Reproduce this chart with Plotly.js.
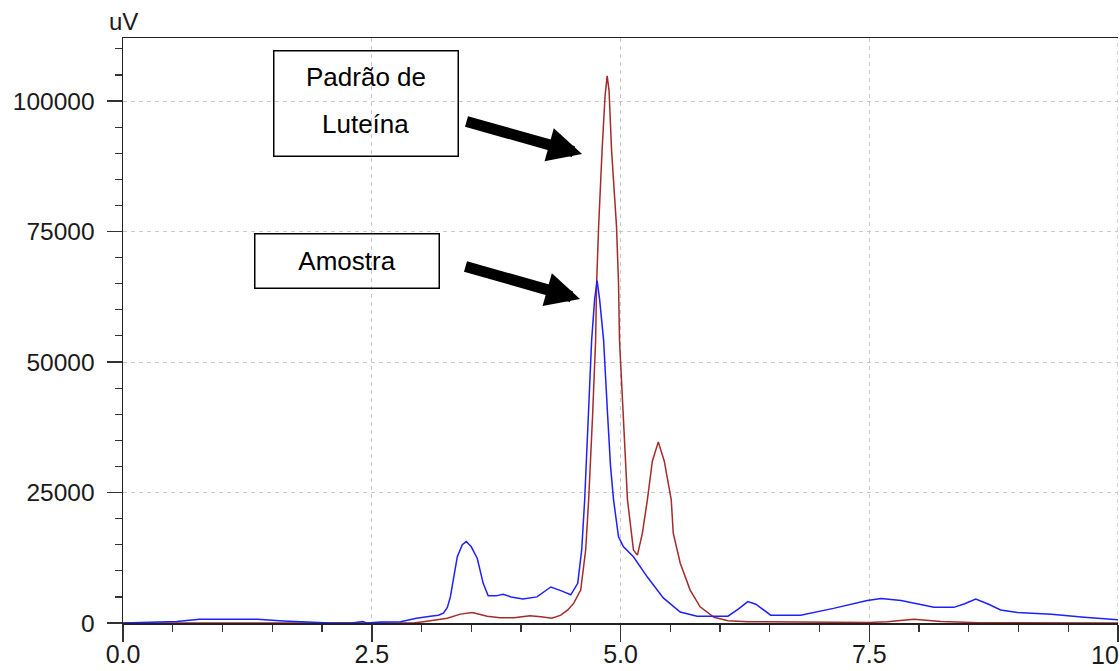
<!DOCTYPE html>
<html>
<head>
<meta charset="utf-8">
<script src="https://cdn.plot.ly/plotly-3.0.1.min.js"></script>
<style>html,body{margin:0;padding:0;background:#fff;}#chart{width:1120px;height:671px;}</style>
</head>
<body>
<div id="chart"></div>
<script>
// Retention time (min) and signal (uV)
const amostraTime = [0, 0.27, 0.54, 0.77, 1.35, 1.61, 2.08, 2.3, 2.41, 2.45, 2.59, 2.79, 2.95, 3.09, 3.17, 3.22, 3.26, 3.29, 3.33, 3.36, 3.41, 3.45, 3.50, 3.56, 3.62, 3.67, 3.75, 3.82, 3.90, 4.02, 4.16, 4.23, 4.30, 4.40, 4.50, 4.57, 4.61, 4.64, 4.68, 4.71, 4.74, 4.765, 4.79, 4.81, 4.83, 4.87, 4.90, 4.93, 4.98, 5.03, 5.13, 5.27, 5.43, 5.60, 5.77, 6.08, 6.18, 6.28, 6.36, 6.51, 6.81, 7.14, 7.48, 7.62, 7.82, 8.15, 8.35, 8.46, 8.57, 8.70, 8.82, 8.99, 9.33, 9.66, 10.0];
const amostraSignal = [0, 130, 300, 700, 700, 400, 0, 0, 300, 0, 200, 250, 900, 1300, 1500, 1900, 3000, 5000, 9500, 12700, 15000, 15600, 14600, 12400, 7600, 5200, 5200, 5500, 5000, 4600, 5000, 6000, 6900, 6200, 5400, 7600, 14000, 23600, 40000, 54200, 62000, 65600, 62000, 58000, 54200, 40000, 30000, 23600, 16500, 14600, 12700, 8800, 4800, 2100, 1300, 1300, 2600, 4100, 3600, 1500, 1500, 2800, 4300, 4700, 4300, 3000, 3000, 3700, 4600, 3600, 2500, 2000, 1700, 1100, 600];

const padraoTime = [0, 2.5, 2.92, 3.02, 3.15, 3.26, 3.39, 3.51, 3.66, 3.79, 3.93, 4.09, 4.20, 4.31, 4.40, 4.47, 4.53, 4.60, 4.65, 4.68, 4.72, 4.75, 4.76, 4.78, 4.815, 4.845, 4.866, 4.885, 4.91, 4.96, 4.98, 4.99, 5.02, 5.07, 5.13, 5.17, 5.22, 5.27, 5.32, 5.38, 5.44, 5.51, 5.53, 5.60, 5.70, 5.80, 5.94, 6.08, 6.28, 6.6, 7.0, 7.5, 7.68, 7.95, 8.22, 8.6, 10];
const padraoSignal = [0, 0, 0, 250, 600, 900, 1700, 2000, 1300, 1000, 1000, 1400, 1200, 900, 1500, 2500, 3800, 6300, 14000, 23600, 40000, 54200, 65100, 75900, 90600, 101000, 104800, 102000, 90600, 75900, 65100, 54200, 42700, 23600, 14000, 13000, 17200, 23600, 31000, 34700, 31000, 23600, 17200, 11500, 6300, 3100, 1100, 450, 250, 200, 100, 100, 250, 700, 300, 50, 0];

const xTickVals = [0, 2.5, 5, 7.5, 10];
const xTickText = ['0.0', '2.5', '5.0', '7.5', ''];
const xLastTickLabel = '10';
const yTickVals = [0, 25000, 50000, 75000, 100000];
const yTickText = ['0', '25000', '50000', '75000', '100000'];

const FONT = 'Liberation Sans, Arial, sans-serif';

const traces = [
  {x: padraoTime, y: padraoSignal, type: 'scatter', mode: 'lines', line: {color: '#a52a2a', width: 1.5}, name: 'Padrão de Luteína'},
  {x: amostraTime, y: amostraSignal, type: 'scatter', mode: 'lines', line: {color: '#1f1fff', width: 1.5}, name: 'Amostra'}
];

const gridColor = '#c8c8c8';
const layout = {
  width: 1120, height: 671,
  margin: {l: 123, r: 2, t: 38, b: 48},
  paper_bgcolor: '#fff', plot_bgcolor: '#fff',
  showlegend: false,
  font: {family: FONT, color: '#1a1a1a', size: 24},
  xaxis: {
    range: [0, 10], tickvals: xTickVals, ticktext: xTickText,
    ticks: 'outside', ticklen: 17, tickwidth: 1.5, tickcolor: '#333',
    showline: true, linecolor: '#222', linewidth: 1.5, mirror: true,
    showgrid: true, gridcolor: gridColor, gridwidth: 1, griddash: '4px,4px',
    zeroline: false, tickfont: {size: 25, family: FONT, color: '#1a1a1a'},
    ticklabelstandoff: -9,
    minor: {dtick: 0.5, tick0: 0, ticks: 'outside', ticklen: 7, tickwidth: 1.2, tickcolor: '#333', showgrid: false},
    fixedrange: true
  },
  yaxis: {
    range: [0, 112070], tickvals: yTickVals, ticktext: yTickText,
    ticks: 'outside', ticklen: 15, tickwidth: 1.5, tickcolor: '#333',
    showline: true, linecolor: '#222', linewidth: 1.5,
    showgrid: true, gridcolor: gridColor, gridwidth: 1, griddash: '4px,4px',
    zeroline: false, tickfont: {size: 24.5, family: FONT, color: '#1a1a1a'},
    ticklabelstandoff: 7,
    minor: {dtick: 5000, tick0: 0, ticks: 'outside', ticklen: 7, tickwidth: 1.2, tickcolor: '#333', showgrid: false},
    fixedrange: true
  },
  shapes: [
    {type: 'line', xref: 'x', yref: 'paper', x0: 10, x1: 10, y0: 0, y1: 1,
     line: {color: gridColor, width: 1.5, dash: '4px,4px'}, layer: 'below'}
  ],
  annotations: [
    {xref: 'paper', yref: 'paper', x: 0, y: 1, xanchor: 'center', yanchor: 'bottom', yshift: 1, showarrow: false,
     text: 'uV', font: {size: 24, family: FONT, color: '#1a1a1a'}},
    {xref: 'x', yref: 'paper', x: 10, y: 0, xanchor: 'right', yanchor: 'middle', xshift: 3, yshift: -32, showarrow: false,
     text: xLastTickLabel, font: {size: 25, family: FONT, color: '#1a1a1a'}},
    // Padrão box
    {xref: 'paper', yref: 'paper', x: 0.2442, y: 0.888, xanchor: 'center', yanchor: 'middle', showarrow: false,
     text: ' ', width: 183, height: 104, borderpad: 0, bordercolor: '#000', borderwidth: 1.5, bgcolor: 'rgba(255,255,255,0)'},
    {xref: 'paper', yref: 'paper', x: 0.2442, y: 0.9333, xanchor: 'center', yanchor: 'middle', showarrow: false,
     text: 'Padrão de', font: {size: 26, family: FONT, color: '#000'}},
    {xref: 'paper', yref: 'paper', x: 0.2442, y: 0.853, xanchor: 'center', yanchor: 'middle', showarrow: false,
     text: 'Luteína', font: {size: 26, family: FONT, color: '#000'}},
    // Amostra box
    {xref: 'paper', yref: 'paper', x: 0.2251, y: 0.6188, xanchor: 'center', yanchor: 'middle', showarrow: false,
     text: 'Amostra', width: 183, height: 53, borderpad: 0, bordercolor: '#000', borderwidth: 1.5,
     font: {size: 26, family: FONT, color: '#000'}},
    // Arrows
    {xref: 'paper', yref: 'paper', x: 0.4613, y: 0.8017, ax: -117, ay: -33, text: '', showarrow: true,
     arrowhead: 2, arrowwidth: 11, arrowsize: 0.62, arrowcolor: '#000', standoff: 0},
    {xref: 'paper', yref: 'paper', x: 0.4593, y: 0.5538, ax: -116, ay: -33, text: '', showarrow: true,
     arrowhead: 2, arrowwidth: 11, arrowsize: 0.62, arrowcolor: '#000', standoff: 0}
  ]
};

Plotly.newPlot('chart', traces, layout, {displayModeBar: false, staticPlot: true});
</script>
</body>
</html>
